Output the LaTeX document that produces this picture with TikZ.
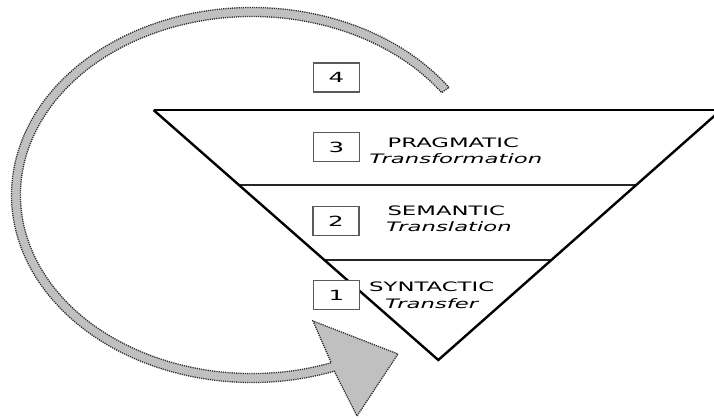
\documentclass[tikz,border=0pt]{standalone}
\usepackage{fontspec}
\usetikzlibrary{calc}
\newfontfamily\lab[FakeStretch=1.75]{DejaVu Sans}
\definecolor{bandfill}{HTML}{C0C0C0}
\definecolor{banddot}{HTML}{2E2E2E}
\definecolor{boxline}{HTML}{5A5A5A}
\begin{document}
\begin{tikzpicture}[x=1bp,y=-1bp,
  numbox/.style={draw=boxline,line width=1.2bp,fill=white,minimum width=46bp,minimum height=29bp,
    inner sep=0pt,font=\lab\fontsize{14bp}{16bp}\selectfont},
  caps/.style={anchor=base,inner sep=0pt,font=\lab\fontsize{13bp}{15bp}\selectfont},
  slant/.style={anchor=base,inner sep=0pt,font=\lab\itshape\fontsize{13bp}{15bp}\selectfont},
  edge/.style={line width=2.4bp,black,line join=miter},
  divider/.style={line width=1.8bp,black!85},
  band/.style={fill=bandfill,draw=banddot,line width=1.3bp,dash pattern=on 1.2bp off 1bp}]
\useasboundingbox (0,0) rectangle (714,418);

% corners of the inverted triangle
\coordinate (TL) at (153.5,110);
\coordinate (TR) at (721,110);
\coordinate (BV) at (438.3,360);
% ends of the two dividing lines
\coordinate (D1L) at (238.9,185);
\coordinate (D1R) at (636.2,185);
\coordinate (D2L) at (324.4,260);
\coordinate (D2R) at (551.4,260);

% curved return arrow: elliptical band ending in a wide head
\coordinate (C) at (252,195);
\coordinate (headL) at (313,321);
\coordinate (headR) at (398,354);
\coordinate (headT) at (357,416);
\path[band]
  (C) ++(325:240.5 and 187.5)
  arc[start angle=325,end angle=70,x radius=240.5,y radius=187.5]
  -- (headT) -- (headR) -- (headL)
  -- ($(C)+(70:231.5 and 178.5)$)
  arc[start angle=70,end angle=325,x radius=231.5,y radius=178.5]
  -- cycle;

% triangle and its layers
\draw[divider] (D1L) -- (D1R);
\draw[divider] (D2L) -- (D2R);
\draw[line width=2bp] (TL) -- (TR);
\draw[edge] (TL) -- (BV) -- (TR);

% numbered boxes
\node[numbox] (b4) at (336.5,77.5) {4};
\node[numbox] (b3) at (336.3,147.2) {3};
\node[numbox] (b2) at (336,221) {2};
\node[numbox] (b1) at (336.3,295) {1};

% layer labels
\node[caps]  (p1) at (453.3,147.3) {PRAGMATIC};
\node[slant] (p2) at (455.8,163)   {Transformation};
\node[caps]  (s1) at (446.3,215.7) {SEMANTIC};
\node[slant] (s2) at (449,231.7)   {Translation};
\node[caps]  (y1) at (431.7,291.7) {SYNTACTIC};
\node[slant] (y2) at (431.7,308.3) {Transfer};
\end{tikzpicture}
\end{document}
